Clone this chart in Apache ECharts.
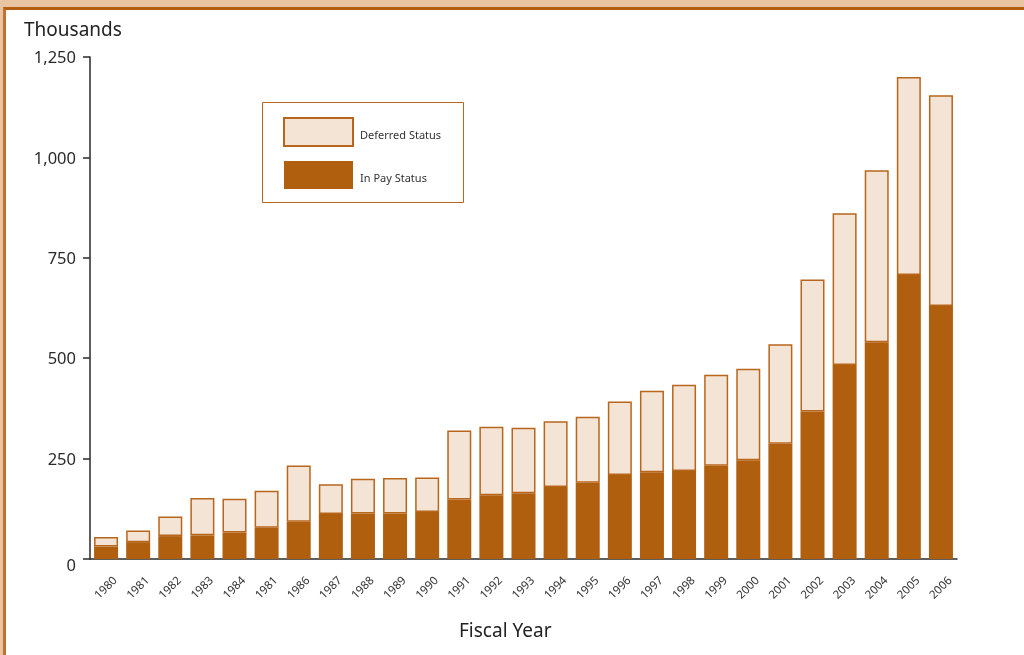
<!DOCTYPE html>
<html>
<head>
<meta charset="utf-8">
<script src="https://cdn.jsdelivr.net/npm/echarts@6/dist/echarts.min.js"></script>
<style>
html,body{margin:0;padding:0;width:1024px;height:655px;overflow:hidden;background:#e8c4a2;}
#panel{position:absolute;left:3px;top:7px;width:1030px;height:660px;background:#fff;border-left:3px solid #c2722c;border-top:3px solid #b35e10;}
#chart{position:absolute;left:0;top:0;width:1024px;height:655px;}
</style>
</head>
<body>
<div id="panel"></div>
<div id="chart"></div>
<script>
const years = ['1980','1981','1982','1983','1984','1981','1986','1987','1988','1989','1990','1991','1992','1993','1994','1995','1996','1997','1998','1999','2000','2001','2002','2003','2004','2005','2006'];
const inPay = [31,42,57,59,66,78,93,112,113,113,117,148,159,164,179,190,209,216,219,232,246,287,367,483,540,707,630];
const totals = [55,71,106,152,150,170,233,186,200,202,203,320,329,327,343,354,392,419,434,459,474,535,696,861,968,1200,1155];
const deferred = totals.map((t, i) => t - inPay[i]);
const yTicks = [0,250,500,750,1000,1250];

const FONT = '"Noto Sans", "Open Sans", sans-serif';
const chart = echarts.init(document.getElementById('chart'), null, {renderer: 'canvas'});
chart.setOption({
  animation: false,
  backgroundColor: 'transparent',
  grid: {left: 90, right: 67, top: 57, bottom: 96, containLabel: false},
  xAxis: {
    type: 'category',
    data: years,
    axisLine: {show: true, lineStyle: {color: '#2a2a2a', width: 1.5}},
    axisTick: {show: false},
    axisLabel: {rotate: 45, align: 'center', verticalAlign: 'middle', margin: 29, fontSize: 11.5, color: '#333', fontFamily: FONT, interval: 0}
  },
  yAxis: {
    type: 'value',
    min: yTicks[0], max: yTicks[yTicks.length - 1], interval: 250,
    axisLine: {show: true, lineStyle: {color: '#2a2a2a', width: 1.5}},
    axisTick: {show: true, length: 7, lineStyle: {color: '#2a2a2a', width: 1.5}},
    splitLine: {show: false},
    axisLabel: {
      margin: 14, fontSize: 16.5, color: '#2a2a2a', fontFamily: FONT,
      formatter: v => v === 0 ? '{z|0}' : '{n|' + v.toLocaleString('en-US') + '}',
      rich: {
        z: {fontSize: 16.5, color: '#2a2a2a', fontFamily: FONT, padding: [14, 0, 0, 0]},
        n: {fontSize: 16.5, color: '#2a2a2a', fontFamily: FONT, padding: [3, 0, 0, 0]}
      }
    }
  },
  legend: {
    data: ['Deferred Status', 'In Pay Status'],
    orient: 'vertical',
    left: 283, top: 117,
    itemWidth: 69, itemHeight: 28, itemGap: 14,
    padding: 0,
    icon: 'rect',
    selectedMode: false,
    formatter: '{t|{name}}',
    textStyle: {
      fontSize: 11, color: '#333', fontFamily: FONT,
      rich: {t: {fontSize: 11, color: '#333', fontFamily: FONT, padding: [8, 0, 0, 2]}}
    }
  },
  graphic: [
    {type: 'rect', shape: {x: 262.5, y: 102.5, width: 201, height: 100}, style: {fill: 'none', stroke: '#b8661c', lineWidth: 1}, silent: true},
    {type: 'text', left: 24, top: 21, style: {text: 'Thousands', font: '19px ' + FONT, fill: '#222'}},
    {type: 'text', left: 459, top: 622, style: {text: 'Fiscal Year', font: '19px ' + FONT, fill: '#222'}}
  ],
  series: [
    {
      name: 'In Pay Status', type: 'bar', stack: 'total', data: inPay,
      barWidth: 24,
      itemStyle: {color: '#b05f0f', borderWidth: 0}
    },
    {
      name: 'Deferred Status', type: 'bar', stack: 'total', data: deferred,
      barWidth: 24,
      itemStyle: {color: '#f4e4d6', borderColor: '#b8661c', borderWidth: 1.5}
    }
  ]
});
</script>
</body>
</html>
